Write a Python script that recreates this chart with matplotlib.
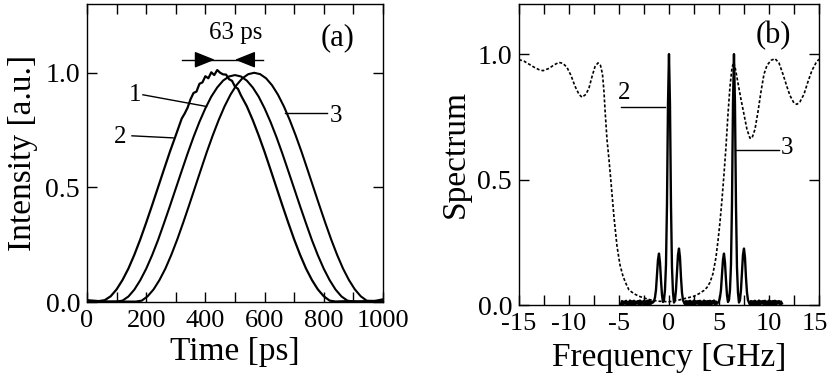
import matplotlib
matplotlib.use("Agg")
import matplotlib.pyplot as plt
from matplotlib.ticker import MultipleLocator
from matplotlib.transforms import ScaledTranslation

plt.rcParams["font.family"] = ["Liberation Serif", "DejaVu Serif"]
plt.rcParams["axes.unicode_minus"] = False

# (a) pulse intensity vs time, three pulses
t1 = [0, 50, 100, 120, 140, 160, 180, 200, 220, 240, 260, 280, 300, 320, 340, 360,
      380, 400, 420, 440, 460, 480, 500, 520, 540, 560, 580, 600, 620, 640, 660, 680,
      700, 720, 740, 760, 780, 800, 820, 840, 860, 880, 900, 950, 1000]
i1 = [0.002, 0.001, 0.002, 0.006, 0.024, 0.054, 0.095, 0.145, 0.204, 0.270, 0.343,
      0.418, 0.495, 0.572, 0.648, 0.720, 0.786, 0.845, 0.896, 0.936, 0.966, 0.984,
      0.990, 0.984, 0.966, 0.936, 0.896, 0.845, 0.786, 0.720, 0.648, 0.572, 0.495,
      0.418, 0.343, 0.270, 0.204, 0.145, 0.095, 0.054, 0.024, 0.006, 0.002, 0.003,
      0.002]

t2 = [0, 20, 40, 60, 80, 100, 120, 140, 160, 180, 200, 220, 240, 260, 280, 300,
      320, 330, 340, 350, 360, 370, 380, 390, 400, 410, 420, 430, 440, 450, 460, 470,
      480, 490, 500, 510, 520, 540, 560, 580, 600, 620, 640, 660, 680, 700, 720, 740,
      760, 780, 800, 820, 840, 880, 920, 960, 1000]
i2 = [0.008, 0.006, 0.004, 0.008, 0.025, 0.055, 0.096, 0.146, 0.206, 0.273, 0.346,
      0.422, 0.500, 0.578, 0.655, 0.727, 0.800, 0.822, 0.848, 0.885, 0.912, 0.918,
      0.952, 0.958, 0.985, 0.976, 1.002, 0.990, 1.012, 1.000, 0.993, 0.992, 0.972,
      0.965, 0.940, 0.930, 0.902, 0.854, 0.794, 0.727, 0.655, 0.578, 0.500, 0.422,
      0.346, 0.273, 0.206, 0.146, 0.096, 0.055, 0.025, 0.006, 0.002, 0.004, 0.002,
      0.005, 0.003]

t3 = [0, 80, 165, 185, 205, 225, 245, 265, 285, 305, 325, 345, 365, 385, 405, 425,
      445, 465, 485, 505, 525, 545, 565, 585, 605, 625, 645, 665, 685, 705, 725, 745,
      765, 785, 805, 825, 845, 865, 885, 905, 925, 945, 965, 985, 1000]
i3 = [0.003, 0.002, 0.002, 0.006, 0.025, 0.055, 0.096, 0.146, 0.206, 0.273, 0.346,
      0.422, 0.500, 0.578, 0.655, 0.727, 0.794, 0.854, 0.905, 0.946, 0.976, 0.994,
      1.000, 0.994, 0.976, 0.946, 0.905, 0.854, 0.794, 0.727, 0.655, 0.578, 0.500,
      0.422, 0.346, 0.273, 0.206, 0.146, 0.096, 0.055, 0.025, 0.006, 0.003, 0.008,
      0.012]

# (b) filter transmission (dashed)
filt_f = [-15, -14.5, -14.0, -13.5, -13.0, -12.6, -12.0, -11.5, -11.0, -10.6, -10.2,
          -9.8, -9.4, -9.0, -8.7, -8.3, -8.0, -7.7, -7.4, -7.1, -6.85, -6.65, -6.5,
          -6.4, -6.2, -6.0, -5.8, -5.5, -5.2, -4.9, -4.6, -4.3, -4.0, -3.5, -3.0, -2.5,
          -2.0, -1.5, -1.0, 0.0, 1.0, 1.5, 2.0, 2.5, 3.0, 3.5, 3.8, 4.1, 4.4, 4.7, 4.9,
          5.1, 5.3, 5.5, 5.7, 5.9, 6.1, 6.3, 6.47, 6.65, 6.9, 7.2, 7.5, 7.8, 8.1, 8.3,
          8.6, 8.9, 9.2, 9.5, 9.8, 10.2, 10.6, 11.0, 11.4, 11.8, 12.1, 12.5, 12.8, 13.1,
          13.5, 13.9, 14.3, 14.7, 15.0]
filt_s = [0.978, 0.972, 0.960, 0.948, 0.938, 0.934, 0.943, 0.957, 0.967, 0.963, 0.947,
          0.915, 0.872, 0.840, 0.828, 0.840, 0.865, 0.910, 0.950, 0.965, 0.955, 0.920,
          0.850, 0.780, 0.660, 0.580, 0.490, 0.350, 0.235, 0.160, 0.115, 0.085, 0.060,
          0.045, 0.035, 0.028, 0.022, 0.018, 0.015, 0.013, 0.020, 0.025, 0.030, 0.035,
          0.045, 0.058, 0.070, 0.090, 0.125, 0.190, 0.255, 0.330, 0.420, 0.520, 0.630,
          0.760, 0.870, 0.945, 0.967, 0.940, 0.885, 0.820, 0.760, 0.700, 0.665, 0.665,
          0.700, 0.770, 0.850, 0.920, 0.955, 0.975, 0.982, 0.965, 0.920, 0.870, 0.835,
          0.805, 0.800, 0.810, 0.840, 0.890, 0.935, 0.965, 0.980]

# (b) measured spectrum (solid)
spec_f = [-4.8, -4.7, -4.6, -4.5, -4.4, -4.3, -4.2, -4.1, -4.0, -3.9, -3.8, -3.7, -3.6,
          -3.5, -3.4, -3.3, -3.2, -3.1, -3.0, -2.9, -2.8, -2.7, -2.6, -2.5, -2.4, -2.3,
          -2.2, -2.1, -2.0, -1.9, -1.8, -1.7, -1.6,
          -1.5, -1.4, -1.3, -1.2, -1.1, -1.0, -0.9, -0.8, -0.7, -0.6, -0.5, -0.4, -0.3,
          -0.2, -0.1, 0.0, 0.1, 0.2, 0.3, 0.4, 0.5, 0.6, 0.7, 0.8, 0.9, 1.0, 1.1, 1.2,
          1.3, 1.4, 1.5,
          1.6, 1.7, 1.8, 1.9, 2.0, 2.1, 2.2, 2.3, 2.4, 2.5, 2.6, 2.7, 2.8, 2.9, 3.0,
          3.1, 3.2, 3.3, 3.4, 3.5, 3.6, 3.7, 3.8, 3.9, 4.0, 4.1, 4.2, 4.3, 4.4, 4.5,
          4.6, 4.7, 4.8, 4.9,
          5.0, 5.1, 5.2, 5.3, 5.4, 5.5, 5.6, 5.7, 5.8, 5.9, 6.0, 6.1, 6.2, 6.3, 6.4,
          6.5, 6.6, 6.7, 6.8, 6.9, 7.0, 7.1, 7.2, 7.3, 7.4, 7.5, 7.6, 7.7, 7.8, 7.9,
          8.0,
          8.1, 8.2, 8.3, 8.4, 8.5, 8.6, 8.7, 8.8, 8.9, 9.0, 9.1, 9.2, 9.3, 9.4, 9.5,
          9.6, 9.7, 9.8, 9.9, 10.0, 10.1, 10.2, 10.3, 10.4, 10.5, 10.6, 10.7, 10.8,
          10.9, 11.0, 11.1, 11.2, 11.3]
spec_s = [0.004, 0.016, 0.001, 0.014, 0.006, 0.017, 0.000, 0.013, 0.005, 0.018, 0.002,
          0.015, 0.004, 0.017, 0.001, 0.014, 0.006, 0.016, 0.002, 0.018, 0.003, 0.014,
          0.005, 0.017, 0.001, 0.015, 0.004, 0.018, 0.002, 0.016, 0.005, 0.014, 0.010,
          0.015, 0.030, 0.060, 0.120, 0.180, 0.205, 0.170, 0.100, 0.040, 0.012, 0.020,
          0.060, 0.160, 0.400, 0.800, 1.000, 0.800, 0.400, 0.150, 0.050, 0.010, 0.020,
          0.060, 0.130, 0.200, 0.225, 0.190, 0.110, 0.050, 0.020, 0.010,
          0.003, 0.016, 0.001, 0.015, 0.005, 0.017, 0.002, 0.014, 0.004, 0.018, 0.001,
          0.015, 0.006, 0.016, 0.002, 0.017, 0.004, 0.014, 0.001, 0.018, 0.005, 0.015,
          0.002, 0.016, 0.004, 0.017, 0.001, 0.015, 0.006, 0.018, 0.003, 0.014, 0.005,
          0.010,
          0.015, 0.030, 0.060, 0.120, 0.180, 0.205, 0.170, 0.100, 0.040, 0.012, 0.020,
          0.060, 0.160, 0.400, 0.800, 1.000, 0.800, 0.400, 0.150, 0.050, 0.010, 0.020,
          0.060, 0.130, 0.200, 0.225, 0.190, 0.110, 0.050, 0.020, 0.010,
          0.002, 0.016, 0.001, 0.015, 0.005, 0.017, 0.002, 0.014, 0.004, 0.018, 0.001,
          0.015, 0.006, 0.016, 0.002, 0.017, 0.004, 0.014, 0.001, 0.018, 0.005, 0.015,
          0.002, 0.016, 0.004, 0.017, 0.001, 0.015, 0.006, 0.016, 0.003, 0.014, 0.006]

freq_ticks = [-15, -10, -5, 0, 5, 10, 15]

fig = plt.figure(figsize=(8.3, 3.86), dpi=100)
ax1 = fig.add_axes([0.1048, 0.2176, 0.3566, 0.772])
ax2 = fig.add_axes([0.6253, 0.2098, 0.3614, 0.780])

for ax in (ax1, ax2):
    ax.tick_params(which="both", direction="in", top=True, right=True,
                   length=7, width=1, pad=6)
    ax.tick_params(axis="x", labelsize=19)
    ax.tick_params(axis="y", labelsize=20, pad=5)
    for sp in ax.spines.values():
        sp.set_linewidth(1)

# panel (a)
ax1.plot(t1, i1, color="k", lw=1.5)
ax1.plot(t2, i2, color="k", lw=1.6)
ax1.plot(t3, i3, color="k", lw=1.5)
ax1.set_xlim(0, 1000)
ax1.set_ylim(0, 1.3)
ax1.xaxis.set_major_locator(MultipleLocator(200))
ax1.xaxis.set_minor_locator(MultipleLocator(100))
ax1.yaxis.set_major_locator(MultipleLocator(0.5))
ax1.yaxis.set_major_formatter(plt.FormatStrFormatter("%.1f"))
ax1.set_xlabel("Time [ps]", fontsize=24, labelpad=3)
ax1.set_ylabel("Intensity [a.u.]", fontsize=24, labelpad=5)

ax1.plot([321, 595], [1.057, 1.057], color="k", lw=1)
arr = dict(arrowstyle="-|>,head_length=0.9,head_width=0.36", color="k", lw=1,
           mutation_scale=14, shrinkA=0, shrinkB=0)
ax1.annotate("", xy=(432, 1.057), xytext=(380, 1.057), arrowprops=arr)
ax1.annotate("", xy=(500, 1.057), xytext=(550, 1.057), arrowprops=arr)
ax1.text(503, 1.175, "63 ps", fontsize=18, ha="center", va="center")
ax1.text(848, 1.155, "(a)", fontsize=22, ha="center", va="center")

ax1.plot([189, 404], [0.904, 0.853], color="k", lw=1)
ax1.text(162, 0.904, "1", fontsize=18, ha="center", va="center")
ax1.plot([152, 291], [0.725, 0.716], color="k", lw=1)
ax1.text(111, 0.72, "2", fontsize=18, ha="center", va="center")
ax1.plot([669, 810], [0.824, 0.824], color="k", lw=1)
ax1.text(840, 0.81, "3", fontsize=18, ha="center", va="center")

# panel (b)
ax2.plot(filt_f, filt_s, color="k", lw=1.2, linestyle=(0, (1.8, 1.2)))
ax2.plot(spec_f, spec_s, color="k", lw=1.7)
ax2.set_xlim(-15, 15)
ax2.set_ylim(0, 1.2)
ax2.set_xticks(freq_ticks)
ax2.xaxis.set_minor_locator(MultipleLocator(2.5))
ax2.yaxis.set_major_locator(MultipleLocator(0.5))
ax2.yaxis.set_major_formatter(plt.FormatStrFormatter("%.1f"))
ax2.set_xlabel("Frequency [GHz]", fontsize=24, labelpad=5)
ax2.set_ylabel("Spectrum", fontsize=24, labelpad=5)

ax2.text(10.4, 1.073, "(b)", fontsize=22, ha="center", va="center")
ax2.plot([-4.8, -0.43], [0.79, 0.79], color="k", lw=1)
ax2.text(-4.5, 0.845, "2", fontsize=18, ha="center", va="center")
ax2.plot([6.74, 11.0], [0.619, 0.619], color="k", lw=1)
ax2.text(11.85, 0.625, "3", fontsize=18, ha="center", va="center")

# keep the last "15" label inside the figure edge
last = ax2.xaxis.get_major_ticks()[-1].label1
last.set_transform(last.get_transform() + ScaledTranslation(-4 / 100, 0, fig.dpi_scale_trans))

fig.savefig("out.png", dpi=100)
